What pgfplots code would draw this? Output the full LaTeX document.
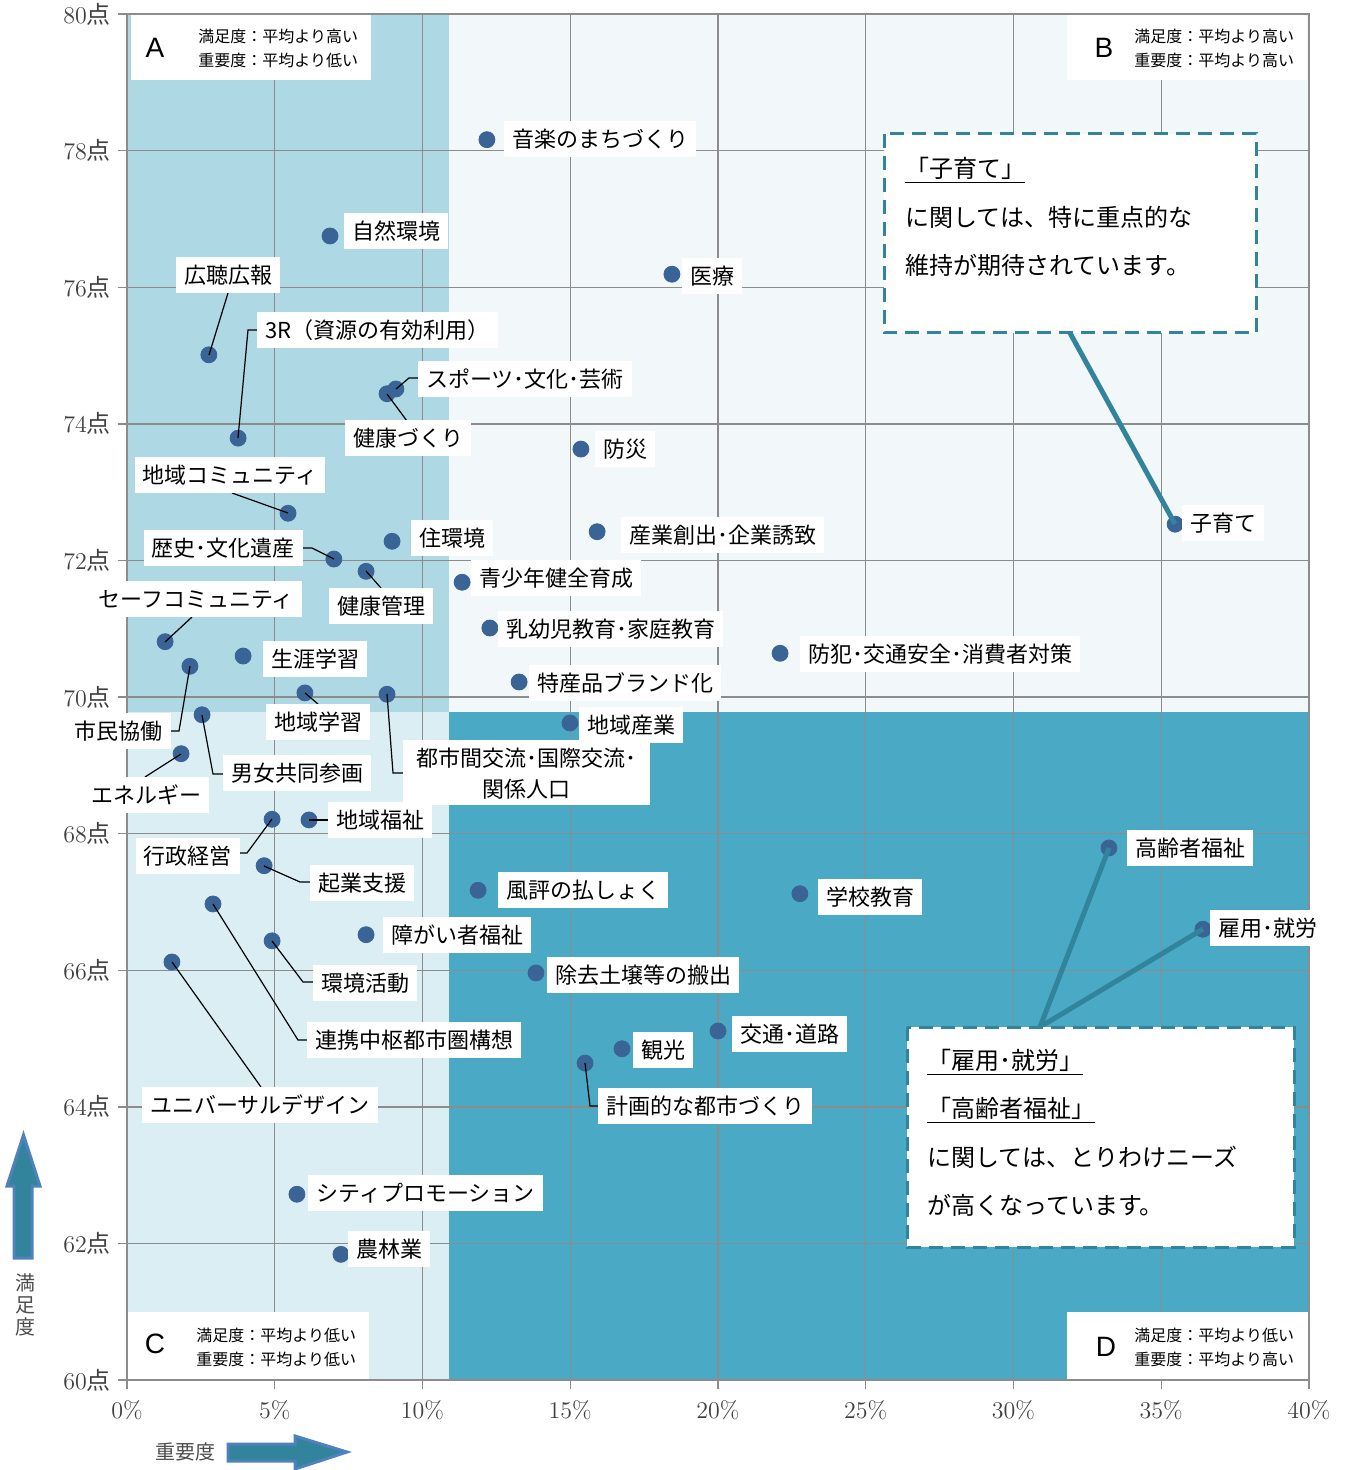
\documentclass[border=0pt]{standalone}
\usepackage{fontspec}
\newfontfamily\jp{Noto Sans CJK JP}
\newfontfamily\arial{Liberation Sans}
\usepackage{pgfplots}
\pgfplotsset{compat=1.18}
\definecolor{qa}{RGB}{173,216,228}
\definecolor{qb}{RGB}{242,247,250}
\definecolor{qc}{RGB}{219,238,244}
\definecolor{qd}{RGB}{74,170,198}
\definecolor{dotc}{RGB}{58,100,150}
\definecolor{callc}{RGB}{49,132,155}
\definecolor{arrowfill}{RGB}{49,132,155}
\definecolor{arrowline}{RGB}{79,129,189}
\definecolor{gridc}{RGB}{140,140,140}
\tikzset{lbl/.style={fill=white, font=\jp\fontsize{11}{13}\selectfont, inner xsep=4pt, inner ysep=0pt, minimum height=18pt, text height=9.7pt, text depth=1.3pt},
  ldr/.style={black, line width=0.6pt},
  cl/.style={anchor=west, font=\jp\fontsize{12}{14}\selectfont, inner sep=0pt},
  ql/.style={anchor=west, font=\jp\fontsize{8}{10}\selectfont, inner sep=0pt}}
\newcommand\Lw[3]{\node[lbl,anchor=west] at (#1,#2) {#3};}
\newcommand\Lc[3]{\node[lbl] at (#1,#2) {#3};}
\newcommand\Le[3]{\node[lbl,anchor=east] at (#1,#2) {#3};}
\begin{document}
\begin{tikzpicture}
\useasboundingbox (0pt,0pt) rectangle (672.5pt,-735pt);
\begin{scope}[x=0.5pt,y=-0.5pt]
\fill[qa] (127,14) rectangle (449,711.5);
\fill[qb] (449,14) rectangle (1309,711.5);
\fill[qc] (127,711.5) rectangle (449,1380);
\fill[qd] (449,711.5) rectangle (1309,1380);
\end{scope}
\begin{axis}[at={(63.5pt,-690pt)}, anchor=south west, scale only axis,
  width=591pt, height=683pt,
  xmin=0, xmax=40, ymin=60, ymax=80,
  xtick={0,5,...,40}, ytick={60,62,...,80},
  grid=major, grid style={gridc, line width=0.7pt},
  axis line style={gridc, line width=0.7pt},
  tick align=outside, major tick length=4.5pt,
  tick style={gridc, line width=0.7pt},
  xtick pos=bottom, ytick pos=left,
  xticklabel={\pgfmathprintnumber{\tick}\%},
  yticklabel={\pgfmathprintnumber{\tick}{\jp 点}},
  ticklabel style={font=\fontsize{12}{14}\selectfont, text=black!75},
  xticklabel style={yshift=-2pt},
]
\addplot[only marks, mark=*, mark size=4pt, color=dotc] coordinates {
(12.18,78.16) (6.87,76.75) (18.44,76.19) (2.77,75.01) (3.76,73.79)
(9.10,74.51) (8.80,74.44) (15.36,73.63) (5.45,72.69) (35.47,72.53)
(15.91,72.42) (8.97,72.28) (7.00,72.02) (8.09,71.84) (11.34,71.68)
(12.28,71.01) (1.29,70.81) (22.10,70.64) (3.93,70.60) (2.13,70.45)
(13.27,70.22) (6.02,70.06) (8.80,70.04) (2.54,69.74) (14.99,69.62)
(1.83,69.17) (4.91,68.21) (6.16,68.20) (33.23,67.79) (4.64,67.53)
(11.88,67.17) (22.77,67.12) (2.91,66.97) (8.09,66.52) (36.41,66.60)
(4.91,66.43) (1.52,66.12) (13.84,65.96) (20.00,65.11) (16.75,64.85)
(15.50,64.64) (5.75,62.72) (7.24,61.84)
};
\end{axis}
\begin{scope}[x=0.5pt,y=-0.5pt]
% leader lines
\draw[ldr] (228,293)--(209,355);
\draw[ldr] (257,330)--(248,330)--(238,438);
\draw[ldr] (418,378)--(409,378)--(396,389);
\draw[ldr] (387,394)--(407,421);
\draw[ldr] (232,493)--(288,513);
\draw[ldr] (303,548)--(312,548)--(334,559);
\draw[ldr] (366,571)--(381,588);
\draw[ldr] (192,617)--(165,642);
\draw[ldr] (171,731)--(179,731)--(190,666);
\draw[ldr] (305,693)--(318,704);
\draw[ldr] (387,694)--(393,773)--(403,773);
\draw[ldr] (202,715)--(213,774)--(223,774);
\draw[ldr] (181,754)--(145,777);
\draw[ldr] (240,853)--(247,853)--(272,819);
\draw[ldr] (309,820)--(328,820);
\draw[ldr] (264,866)--(300,882)--(310,882);
\draw[ldr] (213,904)--(298,1040)--(307,1040);
\draw[ldr] (272,941)--(303,982)--(313,982);
\draw[ldr] (172,962)--(261,1087);
\draw[ldr] (585,1063)--(590,1106)--(598,1106);
% labels
\Lw{504}{139}{音楽のまちづくり}
\Lw{344}{231}{自然環境}
\Lw{682}{276}{医療}
\Lc{228}{275}{広聴広報}
\Lw{257}{330}{3R（資源の有効利用）}
\Lw{418}{379}{スポーツ･文化･芸術}
\Lc{408}{438}{健康づくり}
\Lw{595}{449}{防災}
\Lc{230}{475}{地域コミュニティ}
\Lw{1182}{523}{子育て}
\Lw{621}{535}{産業創出･企業誘致}
\Lw{411}{538}{住環境}
\Le{303}{548}{歴史･文化遺産}
\Lc{381}{606}{健康管理}
\Lw{471}{578}{青少年健全育成}
\Lw{498}{629}{乳幼児教育･家庭教育}
\Lc{196}{599}{セーフコミュニティ}
\Lw{800}{654}{防犯･交通安全･消費者対策}
\Lw{263}{659}{生涯学習}
\Le{171}{731}{市民協働}
\Lw{529}{683}{特産品ブランド化}
\Lc{318}{722}{地域学習}
\fill[white] (403,740) rectangle (650,805);
\node[font=\jp\fontsize{11}{13}\selectfont, inner sep=0pt] at (526,758) {都市間交流･国際交流･};
\node[font=\jp\fontsize{11}{13}\selectfont, inner sep=0pt] at (526,789) {関係人口};
\Lw{223}{773}{男女共同参画}
\Lw{579}{725}{地域産業}
\Lc{146}{795}{エネルギー}
\Le{240}{856}{行政経営}
\Lw{328}{820}{地域福祉}
\Lw{1127}{848}{高齢者福祉}
\Lw{310}{883}{起業支援}
\Lw{498}{890}{風評の払しょく}
\Lw{818}{897}{学校教育}
\Lw{307}{1040}{連携中枢都市圏構想}
\Lw{383}{935}{障がい者福祉}
\Lw{1210}{928}{雇用･就労}
\Lw{313}{983}{環境活動}
\Lc{260}{1105}{ユニバーサルデザイン}
\Lw{547}{975}{除去土壌等の搬出}
\Lw{732}{1034}{交通･道路}
\Lw{633}{1050}{観光}
\Lw{598}{1106}{計画的な都市づくり}
\Lw{308}{1193}{シティプロモーション}
\Lw{348}{1249}{農林業}
% callouts
\draw[callc, line width=2.5pt] (1070,333)--(1175,524);
\draw[callc, line width=2.5pt] (1040,1027)--(1109,848);
\draw[callc, line width=2.5pt] (1040,1027)--(1203,929);
\draw[callc, line width=1.5pt, dash pattern=on 7pt off 4pt, fill=white] (884,134) rectangle (1256,333);
\draw[callc, line width=1.5pt, dash pattern=on 7pt off 4pt, fill=white] (907,1027) rectangle (1294,1247);
\node[cl] at (905,170) {\underline{「子育て」}};
\node[cl] at (905,217) {に関しては、特に重点的な};
\node[cl] at (905,265) {維持が期待されています。};
\node[cl] at (927,1062) {\underline{「雇用･就労」}};
\node[cl] at (927,1110) {\underline{「高齢者福祉」}};
\node[cl] at (927,1157) {に関しては、とりわけニーズ};
\node[cl] at (927,1205) {が高くなっています。};
% quadrant boxes
\fill[white] (131,15) rectangle (371,80);
\node[font=\arial\fontsize{14}{16}\selectfont] at (155,48) {A};
\node[ql] at (198,36) {満足度：平均より高い};
\node[ql] at (198,60) {重要度：平均より低い};
\fill[white] (1067,15) rectangle (1307,80);
\node[font=\arial\fontsize{14}{16}\selectfont] at (1104,48) {B};
\node[ql] at (1134,36) {満足度：平均より高い};
\node[ql] at (1134,60) {重要度：平均より高い};
\fill[white] (128,1312) rectangle (369,1379);
\node[font=\arial\fontsize{14}{16}\selectfont] at (155,1344) {C};
\node[ql] at (196,1335) {満足度：平均より低い};
\node[ql] at (196,1359) {重要度：平均より低い};
\fill[white] (1067,1312) rectangle (1308,1379);
\node[font=\arial\fontsize{14}{16}\selectfont] at (1106,1347) {D};
\node[ql] at (1134,1335) {満足度：平均より低い};
\node[ql] at (1134,1359) {重要度：平均より高い};
% axis titles and arrows
\filldraw[fill=arrowfill, draw=arrowline, line width=1.5pt] (14,1258)--(14,1186)--(7,1186)--(23.5,1135)--(40,1186)--(32,1186)--(32,1258)--cycle;
\filldraw[fill=arrowfill, draw=arrowline, line width=1.5pt] (228,1444)--(295,1444)--(295,1436)--(347,1452)--(295,1469)--(295,1461)--(228,1461)--cycle;
\node[font=\jp\fontsize{10}{12}\selectfont, text=black!70] at (25,1283) {満};
\node[font=\jp\fontsize{10}{12}\selectfont, text=black!70] at (25,1305) {足};
\node[font=\jp\fontsize{10}{12}\selectfont, text=black!70] at (25,1327) {度};
\node[font=\jp\fontsize{10}{12}\selectfont, text=black!70] at (185,1452) {重要度};
\end{scope}
\end{tikzpicture}
\end{document}
